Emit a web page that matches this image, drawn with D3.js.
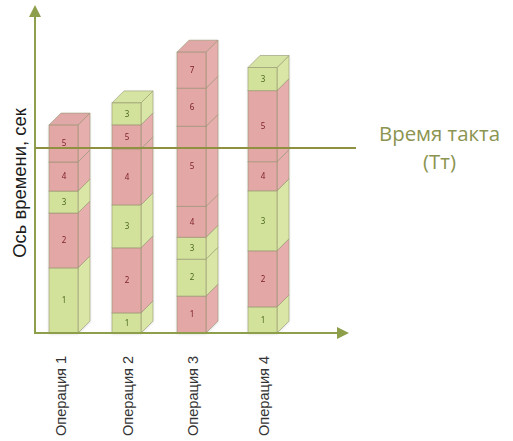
<!DOCTYPE html>
<html>
<head>
<meta charset="utf-8">
<script src="https://cdn.jsdelivr.net/npm/d3@7"></script>
<style>
  html, body { margin: 0; padding: 0; background: #fff; }
  svg { display: block; }
  .op-axis text { font-family: "Liberation Sans", sans-serif; font-size: 14.6px; fill: #333; }
  .y-title { font-family: "Liberation Sans", sans-serif; font-size: 18.4px; fill: #1c1c1c; }
  .takt-lbl { font-family: "Open Sans", sans-serif; font-size: 20.4px; fill: #8b9450; }
  .seg-lbl { font-family: "Noto Sans", sans-serif; font-size: 8px; }
</style>
</head>
<body>
<svg id="chart" width="513" height="441"></svg>
<script>
// Values, time in seconds
const OPERATIONS = ["Операция 1", "Операция 2", "Операция 3", "Операция 4"];
const SEG_LABELS = [
  [1, 2, 3, 4, 5],
  [1, 2, 3, 4, 5, 3],
  [1, 2, 3, 4, 5, 6, 7],
  [1, 2, 3, 4, 5, 3],
];
const SEG_TIMES = [
  [21.7, 18.3, 7.3, 9.7, 12.3],
  [6.7, 21.7, 14.3, 18.7, 8, 7.3],
  [12.3, 12.3, 7.3, 10.3, 26.7, 12.7, 12],
  [8.7, 18.7, 20, 9.7, 23.7, 7.7],
];
// g = value adding (green), r = waste (red)
const SEG_KINDS = [
  ["g", "r", "g", "r", "r"],
  ["g", "r", "g", "r", "r", "g"],
  ["r", "g", "g", "r", "r", "r", "r"],
  ["g", "r", "g", "r", "r", "g"],
];
const TAKT_TIME = 61.7;
const TAKT_LINES = ["Время такта", "(Тт)"];
const Y_TITLE = "Ось времени, сек";

const BAR_W = 29, DEPTH = 12;
const AXIS_X = 35, AXIS_Y = 333;
const COLORS = {
  r: { front: "#e3a7a5", side: "#e6aead", top: "#e0a9a8", text: "#7a1c24" },
  g: { front: "#d3e29b", side: "#d9e6a6", top: "#d6e4a3", text: "#4b6a1c" },
};
const AXIS_COLOR = "#8e9f4c";

const svg = d3.select("#chart");

const defs = svg.append("defs");
const shadow = defs.append("filter").attr("id", "soft")
  .attr("x", "-20%").attr("y", "-5%").attr("width", "140%").attr("height", "110%");
shadow.append("feDropShadow")
  .attr("dx", 0).attr("dy", 1).attr("stdDeviation", 1.2)
  .attr("flood-color", "#000").attr("flood-opacity", 0.14);
shadow.append("feGaussianBlur").attr("stdDeviation", 0.35);

const x = d3.scaleOrdinal().domain(OPERATIONS).range([49, 112, 177, 248]);
const xLabel = d3.scaleOrdinal().domain(OPERATIONS).range([65, 132, 197, 268]);
const y = d3.scaleLinear().domain([0, 100]).range([AXIS_Y, AXIS_Y - 300]);

// Stacks, drawn bottom up so the upper side face covers the one below
const barsG = svg.append("g");
OPERATIONS.forEach((op, i) => {
  const bar = barsG.append("g").attr("filter", "url(#soft)");
  const x0 = x(op), x1 = x0 + BAR_W;
  let sum = 0;
  const segs = SEG_TIMES[i].map((t, j) => {
    const s = { label: SEG_LABELS[i][j], kind: SEG_KINDS[i][j], y0: y(sum), y1: y(sum + t) };
    sum += t;
    return s;
  });

  segs.forEach((s, j) => {
    const c = COLORS[s.kind];
    const seg = bar.append("g")
      .attr("stroke", "#8f8f6c").attr("stroke-opacity", 0.55).attr("stroke-width", 1);
    seg.append("path").attr("fill", c.side)
      .attr("d", `M${x1},${s.y0}L${x1 + DEPTH},${s.y0 - DEPTH}L${x1 + DEPTH},${s.y1 - DEPTH}L${x1},${s.y1}Z`);
    if (j === segs.length - 1) {
      seg.append("path").attr("fill", c.top)
        .attr("d", `M${x0},${s.y1}L${x0 + DEPTH},${s.y1 - DEPTH}L${x1 + DEPTH},${s.y1 - DEPTH}L${x1},${s.y1}Z`);
    }
    seg.append("rect").attr("x", x0).attr("y", s.y1)
      .attr("width", BAR_W).attr("height", s.y0 - s.y1).attr("fill", c.front);
    bar.append("text").attr("class", "seg-lbl")
      .attr("x", x0 + BAR_W / 2 + 0.5).attr("y", (s.y0 + s.y1) / 2)
      .attr("dy", "0.35em").attr("text-anchor", "middle")
      .attr("fill", c.text).text(s.label);
  });
});

// Axes with arrow heads
const axes = svg.append("g").attr("fill", AXIS_COLOR);
axes.append("line").attr("x1", AXIS_X).attr("x2", AXIS_X)
  .attr("y1", AXIS_Y + 1).attr("y2", 16)
  .attr("stroke", AXIS_COLOR).attr("stroke-width", 2);
axes.append("path").attr("d", `M${AXIS_X},5L${AXIS_X + 6},17L${AXIS_X - 6},17Z`);
axes.append("line").attr("x1", AXIS_X - 1).attr("x2", 338)
  .attr("y1", AXIS_Y).attr("y2", AXIS_Y)
  .attr("stroke", AXIS_COLOR).attr("stroke-width", 2);
axes.append("path").attr("d", `M349,${AXIS_Y}L337,${AXIS_Y - 6}L337,${AXIS_Y + 6}Z`);

// Takt time line
svg.append("line").attr("x1", AXIS_X).attr("x2", 356)
  .attr("y1", y(TAKT_TIME)).attr("y2", y(TAKT_TIME))
  .attr("stroke", "#8f9140").attr("stroke-width", 2);

svg.selectAll("text.takt-lbl")
  .data(TAKT_LINES)
  .join("text").attr("class", "takt-lbl")
  .attr("x", 439.5).attr("y", (d, i) => 141 + i * 28)
  .attr("text-anchor", "middle").text(d => d);

// Operation labels, rotated
const opAxis = svg.append("g").attr("class", "op-axis")
  .attr("transform", "translate(0,436)")
  .call(d3.axisBottom(xLabel).tickSize(0));
opAxis.select(".domain").remove();
opAxis.selectAll("text")
  .attr("transform", "rotate(-90)")
  .attr("x", 0).attr("y", 0).attr("dy", 0)
  .attr("text-anchor", "start");

svg.append("text").attr("class", "y-title")
  .attr("transform", "rotate(-90)")
  .attr("x", -183).attr("y", 26)
  .attr("text-anchor", "middle").text(Y_TITLE);
</script>
</body>
</html>
